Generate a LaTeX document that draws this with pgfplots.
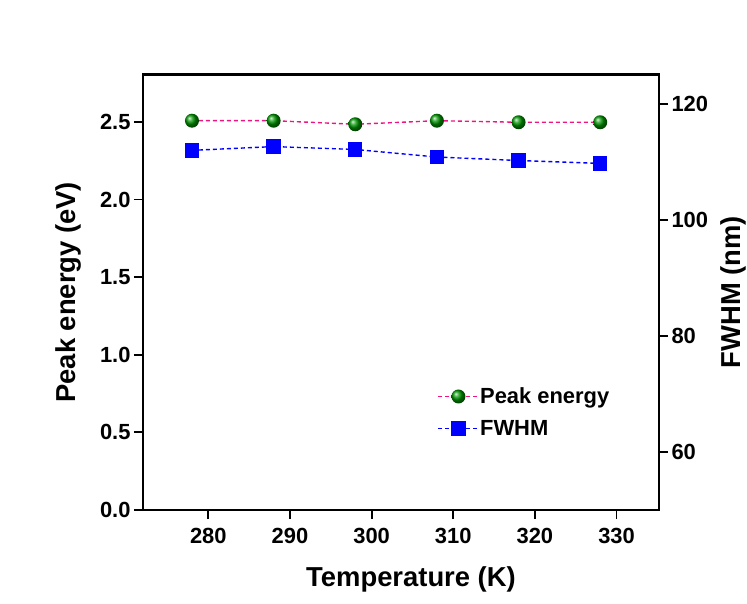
\documentclass[border=0pt]{standalone}
\usepackage{fontspec}
\setmainfont{Liberation Sans}
\usepackage{pgfplots}
\pgfplotsset{compat=1.18}

\definecolor{peakpink}{RGB}{240,20,130}
\definecolor{fwhmblue}{RGB}{0,0,255}
\definecolor{ballgreen}{RGB}{0,150,0}

\pgfplotsset{
  common/.style={
    scale only axis,
    width=516bp, height=435.4bp,
    at={(0,0)}, anchor=south west,
    xmin=272, xmax=335.2,
    axis line style={line width=2.4bp},
    major tick style={line width=1.8bp, black},
    major tick length=9bp,
    tick align=outside,
    /pgf/number format/assume math mode=true,
    tick label style={font=\fontsize{22}{26}\selectfont\bfseries},
    label style={font=\fontsize{27.5}{32}\selectfont\bfseries},
  },
  peakline/.style={color=peakpink, line width=1.4bp, dash pattern=on 4bp off 3bp,
    mark=ball, mark size=7bp,
    mark options={solid, ball color=ballgreen, draw opacity=0}},
  fwhmline/.style={color=fwhmblue, line width=1.4bp, dash pattern=on 4bp off 3bp,
    mark=square*, mark size=6.5bp, mark options={solid, fill=fwhmblue}},
}

\begin{document}
\begin{tikzpicture}
\useasboundingbox (-143bp,-94bp) rectangle (604bp,510bp);

% Left axis: peak energy, full frame
\begin{axis}[
  common,
  xtick pos=bottom,
  ytick pos=left,
  ymin=0, ymax=2.805,
  xtick={280,290,...,330},
  ytick={0,0.5,...,2.5},
  yticklabel style={/pgf/number format/.cd, fixed, fixed zerofill, precision=1},
  xticklabel style={yshift=-6bp},
  xlabel={Temperature (K)},
  ylabel={Peak energy (eV)},
  xlabel style={yshift=-16bp, xshift=10bp},
  ylabel style={yshift=12bp},
]
\addplot[peakline]
  coordinates {(278,2.508) (288,2.508) (298,2.485) (308,2.508) (318,2.498) (328,2.498)};
\end{axis}

% Right axis: FWHM
\begin{axis}[
  common,
  axis x line=none,
  axis y line*=right,
  ymin=50, ymax=125,
  ytick={60,80,...,120},
  ylabel={FWHM (nm)},
  ylabel style={yshift=-6bp},
  legend style={draw=none, fill=none, at={(0.565,0.288)}, anchor=north west,
    font=\fontsize{22}{26}\selectfont\bfseries, row sep=13bp,
    nodes={inner sep=1bp}},
  legend cell align=left,
  legend image code/.code={
    \draw[mark repeat=2, mark phase=2] plot coordinates {(0bp,0bp) (20bp,0bp) (40bp,0bp)};},
]
\addlegendimage{peakline}
\addlegendentry{Peak energy}
\addplot[fwhmline]
  coordinates {(278,111.95) (288,112.6) (298,112.1) (308,110.8) (318,110.2) (328,109.7)};
\addlegendentry{FWHM}
\end{axis}
\end{tikzpicture}
\end{document}
